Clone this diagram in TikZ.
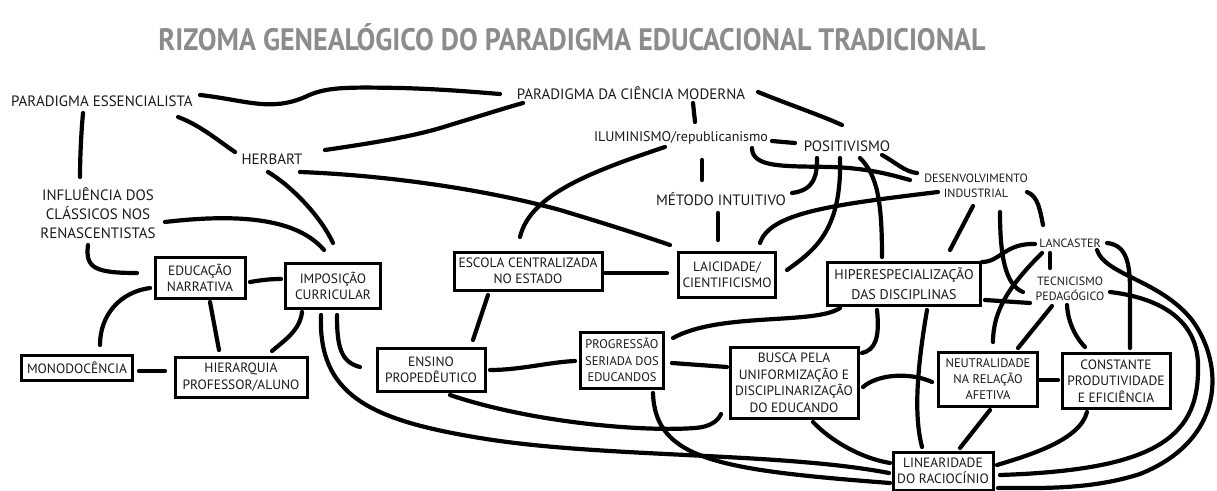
\documentclass[tikz,border=0pt]{standalone}
\usepackage{fontspec}
\setmainfont{PT Sans}
\usetikzlibrary{calc}
\definecolor{txt}{HTML}{1A1A1A}
\definecolor{titlegray}{HTML}{8C8C8C}
\tikzset{
 conn/.style={line width=4.2pt, line cap=round, line join=round},
 lbl/.style={font=\fontsize{15}{19}\selectfont, text=txt, align=center, inner sep=0pt},
 sml/.style={font=\fontsize{12}{15.5}\selectfont, text=txt, align=center, inner sep=0pt},
 box/.style={draw, line width=3pt, font=\fontsize{13.5}{16.5}\selectfont, text=txt, align=center, inner sep=0pt},
}
\begin{document}
\begin{tikzpicture}[x=1pt,y=-1pt]
\fill[white] (0,0) rectangle (1217,490);
\useasboundingbox (0,0) rectangle (1217,490);
\node[font=\fontsize{31}{31}\selectfont\bfseries, text=titlegray, inner sep=0pt] (title) at (572,37) {\resizebox{827pt}{\height}{RIZOMA GENEALÓGICO DO PARADIGMA EDUCACIONAL TRADICIONAL}};
% plain labels
\node[lbl] (pe) at (102,101) {PARADIGMA ESSENCIALISTA};
\node[lbl] (pcm) at (631,93) {PARADIGMA DA CIÊNCIA MODERNA};
\node[lbl] (herb) at (272,159) {HERBART};
\node[lbl] (inf) at (98,213) {INFLUÊNCIA DOS\\CLÁSSICOS NOS\\RENASCENTISTAS};
\node[lbl,font=\fontsize{14}{17}\selectfont] (ilu) at (681,138) {ILUMINISMO/republicanismo};
\node[lbl] (pos) at (847,146) {POSITIVISMO};
\node[sml] (des) at (976,186) {DESENVOLVIMENTO\\INDUSTRIAL};
\node[lbl] (met) at (721,199) {MÉTODO INTUITIVO};
\node[sml] (lan) at (1070,243) {LANCASTER};
\node[sml] (tec) at (1070,289) {TECNICISMO\\PEDAGÓGICO};
% boxes
\node[box, minimum width=90, minimum height=41] (en) at (200,278) {EDUCAÇÃO\\NARRATIVA};
\node[box, minimum width=95, minimum height=45] (imp) at (333,286) {IMPOSIÇÃO\\CURRICULAR};
\node[box, minimum width=111, minimum height=25] (mono) at (77,368) {MONODOCÊNCIA};
\node[box, minimum width=132, minimum height=40] (hier) at (241,377) {HIERARQUIA\\PROFESSOR/ALUNO};
\node[box, minimum width=148, minimum height=38] (esc) at (528,271) {ESCOLA CENTRALIZADA\\NO ESTADO};
\node[box, minimum width=97, minimum height=45] (lai) at (727,275) {LAICIDADE/\\CIENTIFICISMO};
\node[box, minimum width=108, minimum height=43] (ens) at (431,370) {ENSINO\\PROPEDÊUTICO};
\node[box, minimum width=83, minimum height=56, font=\fontsize{12.5}{16.5}\selectfont] (prog) at (622,360) {PROGRESSÃO\\SERIADA DOS\\EDUCANDOS};
\node[box, minimum width=153, minimum height=43, font=\fontsize{14}{20}\selectfont] (hip) at (904,284) {HIPERESPECIALIZAÇÃO\\DAS DISCIPLINAS};
\node[box, minimum width=128, minimum height=71] (bus) at (794,383) {BUSCA PELA\\UNIFORMIZAÇÃO E\\DISCIPLINARIZAÇÃO\\DO EDUCANDO};
\node[box, minimum width=99, minimum height=54, font=\fontsize{12.5}{16}\selectfont] (neu) at (988,379) {NEUTRALIDADE\\NA RELAÇÃO\\AFETIVA};
\node[box, minimum width=108, minimum height=55] (con) at (1116,381) {CONSTANTE\\PRODUTIVIDADE\\E EFICIÊNCIA};
\node[box, minimum width=100, minimum height=38] (lin) at (943,471) {LINEARIDADE\\DO RACIOCÍNIO};
% connectors
\draw[conn] ($(pe)+(98,-6)$) .. controls (245,100) and (270,112) .. (305,97) .. controls (325,87) and (345,87) .. (400,88) .. controls (440,89) and (475,92) .. ($(pcm)+(-131,1)$);
\draw[conn] ($(herb)+(53,-9)$) .. controls (380,142) and (420,135) .. (450,125) .. controls (480,116) and (505,108) .. ($(pcm)+(-108,10)$);
\draw[conn] ($(herb)+(28,13)$) .. controls (380,175) and (480,188) .. (560,210) .. controls (610,225) and (650,238) .. ($(lai)+(-57,-30)$);
\draw[conn] ($(pe)+(76,16)$) .. controls (200,125) and (220,142) .. ($(herb)+(-37,-7)$);
\draw[conn] ($(pe)+(-19,12)$) .. controls (81,135) and (80,160) .. ($(inf)+(-18,-36)$);
\draw[conn] ($(inf)+(67,9)$) .. controls (250,212) and (300,222) .. ($(imp)+(-9,-36)$);
\draw[conn] ($(herb)+(-4,13)$) .. controls (290,185) and (320,215) .. ($(imp)+(0,-43)$);
\draw[conn] ($(inf)+(-10,32)$) .. controls (85,268) and (95,273) .. ($(en)+(-63,-5)$);
\draw[conn] ($(en)+(50,4)$) .. controls (262,280) and (270,279) .. ($(imp)+(-52,-7)$);
\draw[conn] ($(en)+(-50,10)$) .. controls (120,292) and (100,315) .. ($(mono)+(23,-23)$);
\draw[conn] ($(en)+(10,24)$) -- ($(hier)+(-22,-27)$);
\draw[conn] ($(mono)+(62,3)$) -- ($(hier)+(-76,-6)$);
\draw[conn] ($(imp)+(-31,26)$) .. controls (300,330) and (285,340) .. ($(hier)+(31,-26)$);
\draw[conn] ($(imp)+(4,29)$) .. controls (337,345) and (340,362) .. ($(ens)+(-71,-3)$);
\draw[conn] ($(imp)+(-12,29)$) .. controls (318,395) and (370,420) .. (480,438) .. controls (600,458) and (780,452) .. ($(lin)+(-54,2)$);
\draw[conn] ($(ens)+(19,25)$) .. controls (530,422) and (640,432) .. (695,428) .. controls (710,427) and (718,421) .. ($(bus)+(-73,31)$);
\draw[conn] ($(ens)+(59,0)$) .. controls (520,370) and (550,362) .. ($(prog)+(-47,1)$);
\draw[conn] ($(esc)+(-40,24)$) -- ($(ens)+(42,-30)$);
\draw[conn] ($(esc)+(77,2)$) -- ($(lai)+(-60,-2)$);
\draw[conn] ($(ilu)+(-16,9)$) .. controls (590,172) and (530,195) .. ($(esc)+(-8,-34)$);
\draw[conn] ($(pcm)+(62,10)$) -- ($(ilu)+(14,-16)$);
\draw[conn] ($(ilu)+(21,22)$) -- ($(met)+(-19,-19)$);
\draw[conn] ($(met)+(-3,14)$) -- ($(lai)+(-9,-35)$);
\draw[conn] ($(ilu)+(91,3)$) -- ($(pos)+(-52,-3)$);
\draw[conn] ($(pcm)+(127,-1)$) .. controls (790,105) and (820,115) .. ($(pos)+(-5,-21)$);
\draw[conn] ($(pos)+(35,9)$) .. controls (895,162) and (905,172) .. ($(des)+(-59,-13)$);
\draw[conn] ($(ilu)+(71,10)$) .. controls (752,168) and (785,166) .. (830,167) .. controls (870,168) and (895,176) .. ($(des)+(-66,-6)$);
\draw[conn] ($(met)+(71,-6)$) .. controls (815,190) and (817,175) .. ($(pos)+(-30,12)$);
\draw[conn] ($(pos)+(-7,12)$) .. controls (842,230) and (815,250) .. ($(lai)+(60,-5)$);
\draw[conn] ($(pos)+(13,12)$) .. controls (877,175) and (882,200) .. ($(hip)+(-22,-27)$);
\draw[conn] ($(des)+(-38,6)$) .. controls (830,205) and (770,213) .. ($(lai)+(33,-32)$);
\draw[conn] ($(des)+(-3,20)$) -- ($(hip)+(46,-34)$);
\draw[conn] ($(des)+(24,26)$) .. controls (1000,255) and (1005,285) .. ($(tec)+(-47,3)$);
\draw[conn] ($(des)+(51,6)$) .. controls (1038,196) and (1040,210) .. ($(lan)+(-27,-18)$);
\draw[conn] ($(lan)+(-35,1)$) .. controls (1005,243) and (1000,262) .. ($(hip)+(78,-22)$);
\draw[conn] ($(hip)+(81,16)$) -- ($(tec)+(-40,14)$);
\draw[conn] ($(lan)+(-28,10)$) .. controls (1010,285) and (993,310) .. ($(neu)+(5,-37)$);
\draw[conn] ($(tec)+(-18,17)$) -- ($(neu)+(30,-31)$);
\draw[conn] ($(lan)+(-20,10)$) -- ($(tec)+(-20,-21)$);
\draw[conn] ($(tec)+(-3,16)$) .. controls (1068,325) and (1078,340) .. ($(con)+(-31,-34)$);
\draw[conn] ($(lan)+(37,0)$) .. controls (1126,245) and (1130,262) .. (1130,290) -- ($(con)+(14,-33)$);
\draw[conn] ($(lan)+(27,7)$) .. controls (1105,275) and (1160,280) .. (1192,320) .. controls (1225,365) and (1225,440) .. (1140,474) .. controls (1090,490) and (1040,488) .. ($(lin)+(55,17)$);
\draw[conn] ($(tec)+(40,3)$) .. controls (1160,298) and (1200,320) .. (1198,370) .. controls (1198,440) and (1150,470) .. ($(lin)+(57,4)$);
\draw[conn] ($(hip)+(-64,24)$) .. controls (815,325) and (720,312) .. ($(prog)+(51,-22)$);
\draw[conn] ($(hip)+(-27,26)$) .. controls (880,338) and (875,350) .. ($(bus)+(68,-30)$);
\draw[conn] ($(hip)+(23,26)$) .. controls (915,380) and (915,420) .. ($(lin)+(-21,-24)$);
\draw[conn] ($(bus)+(69,4)$) .. controls (878,374) and (910,372) .. ($(neu)+(-56,3)$);
\draw[conn] ($(prog)+(50,3)$) -- ($(bus)+(-67,-16)$);
\draw[conn] ($(prog)+(31,33)$) .. controls (655,460) and (720,470) .. ($(lin)+(-53,12)$);
\draw[conn] ($(bus)+(19,39)$) .. controls (830,440) and (860,458) .. ($(lin)+(-53,-8)$);
\draw[conn] ($(neu)+(52,1)$) -- ($(con)+(-58,-1)$);
\draw[conn] ($(neu)+(2,31)$) -- ($(lin)+(17,-23)$);
\draw[conn] ($(con)+(-29,31)$) .. controls (1080,440) and (1030,455) .. ($(lin)+(54,-6)$);
\end{tikzpicture}
\end{document}
